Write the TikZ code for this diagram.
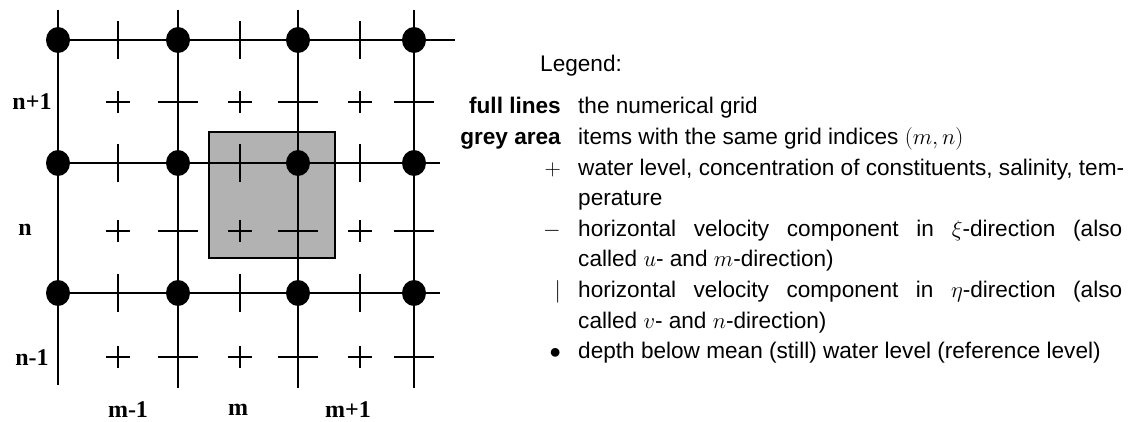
\RequirePackage{fix-cm}
\documentclass[tikz,border=0pt]{standalone}
\usepackage{fontspec}
\setmainfont{Liberation Sans}
\newfontfamily\labserif{Liberation Serif}
\definecolor{cellgrey}{RGB}{178,178,178}
\begin{document}
\begin{tikzpicture}[x=1pt,y=-1pt,
  gridline/.style={line width=1.6pt,line cap=butt},
  ticks/.style={line width=1.4pt},
  idx/.style={font=\labserif\bfseries\fontsize{24}{24}\selectfont,inner sep=0pt,anchor=center},
  legtext/.style={font=\fontsize{22.6}{30}\selectfont,inner sep=0pt,anchor=base west},
  leglabel/.style={font=\bfseries\fontsize{22.6}{30}\selectfont,inner sep=0pt,anchor=base east},
  legsym/.style={font=\fontsize{22.6}{30}\selectfont,inner sep=0pt,anchor=base east}]
\useasboundingbox (0,0) rectangle (1128,421);
\fill[white] (0,0) rectangle (1128,421);
% grey cell
\filldraw[fill=cellgrey,line width=1.2pt] (209,132) rectangle (335,258);
% grid lines
\draw[gridline] (58,10) -- (58,385);
\foreach \x in {178,298,414} \draw[gridline] (\x,10) -- (\x,388);
\draw[gridline] (58,40) -- (455,40);
\foreach \y in {163,293} \draw[gridline] (58,\y) -- (440,\y);
% v-velocity ticks
\foreach \x in {118,240,360} \foreach \y in {40,163,293}
  \draw[ticks] (\x,\y-19) -- (\x,\y+19);
% water level points
\foreach \x in {118,240,360} \foreach \y in {102,231,357} {
  \draw[ticks] (\x-12,\y) -- (\x+12,\y);
  \draw[ticks] (\x,\y-11) -- (\x,\y+11);
}
% u-velocity ticks
\foreach \x in {178,298,414} \foreach \y in {102,231,357}
  \draw[ticks] (\x-20,\y) -- (\x+20,\y);
% depth points
\foreach \x in {58,178,298,414} \foreach \y in {40,163,293}
  \fill (\x,\y) ellipse [x radius=12pt, y radius=13pt];
% index labels
\node[idx] (np1) at (32,102) {n+1};
\node[idx] (n0) at (25,230) {n};
\node[idx] (nm1) at (32,358) {n-1};
\node[idx] (mm1) at (128,410) {m-1};
\node[idx] (m0) at (238,410) {m};
\node[idx] (mp1) at (348,410) {m+1};
% legend
\node[legtext] (leg) at (540,71) {Legend:};
\node[leglabel] (l1) at (561,113) {full lines};
\node[legtext] (t1) at (578,113) {the numerical grid};
\node[leglabel] (l2) at (561,144) {grey area};
\node[legtext] (t2) at (578,144) {items with the same grid indices $(m,n)$};
\node[legsym] (s3) at (561,175) {$+$};
\node[legtext] (t3) at (578,175) {water level, concentration of constituents, salinity, tem-};
\node[legtext] (t3b) at (578,205) {perature};
\node[legsym] (s4) at (561,236) {$-$};
\node[legtext] (t4) at (578,236) {\makebox[544pt][s]{horizontal velocity component in $\xi$-direction (also}};
\node[legtext] (t4b) at (578,266) {called $u$- and $m$-direction)};
\node[legsym] (s5) at (561,297) {$|$};
\node[legtext] (t5) at (578,297) {\makebox[544pt][s]{horizontal velocity component in $\eta$-direction (also}};
\node[legtext] (t5b) at (578,328) {called $v$- and $n$-direction)};
\node[legsym] (s6) at (561,358) {$\bullet$};
\node[legtext] (t6) at (578,358) {depth below mean (still) water level (reference level)};
\end{tikzpicture}
\end{document}
